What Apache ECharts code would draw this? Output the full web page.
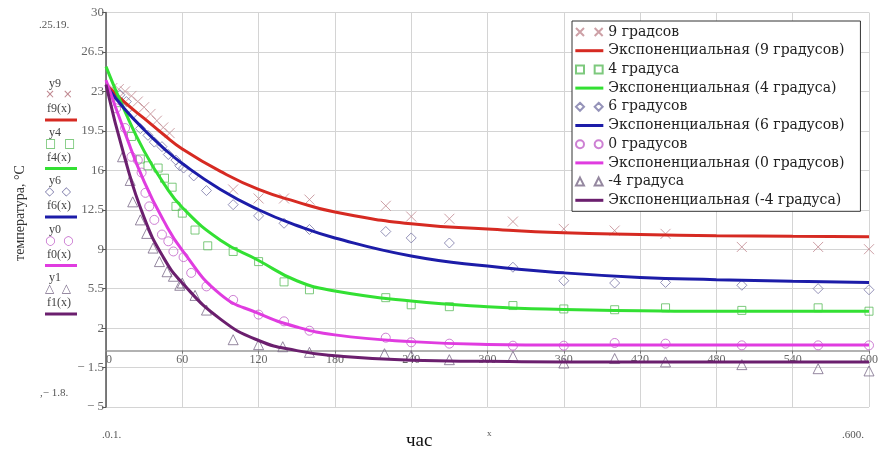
<!DOCTYPE html>
<html>
<head>
<meta charset="utf-8">
<script src="https://cdn.jsdelivr.net/npm/echarts@6/dist/echarts.min.js"></script>
<style>
  html, body { margin: 0; padding: 0; background: #fff; }
  #chart { width: 884px; height: 452px; }
</style>
</head>
<body>
<div id="chart"></div>
<script>
// fitted curves
const fitTimes = [0, 15, 30, 45, 60, 90, 120, 150, 180, 240, 300, 360, 420, 480, 540, 600];
const fit9 = [23.6, 22.0, 20.6, 19.2, 17.9, 15.9, 14.3, 13.2, 12.3, 11.25, 10.8, 10.45, 10.3, 10.2, 10.15, 10.1];
const fit4 = [25.2, 21.2, 17.7, 14.9, 12.7, 9.8, 8.0, 6.2, 5.3, 4.4, 3.9, 3.65, 3.55, 3.5, 3.5, 3.5];
const fit6 = [23.5, 21.4, 19.6, 18.0, 16.6, 14.3, 12.5, 11.1, 10.0, 8.4, 7.5, 6.9, 6.5, 6.3, 6.15, 6.05];
const fit0 = [24.0, 19.3, 15.0, 11.6, 8.9, 5.0, 3.3, 2.1, 1.4, 0.8, 0.55, 0.5, 0.5, 0.5, 0.5, 0.5];
const fitM4 = [23.6, 17.0, 11.8, 8.3, 6.0, 2.8, 0.9, 0.0, -0.45, -0.85, -0.95, -1.0, -1.0, -1.0, -1.0, -1.0];

// measurements
const t9 = [5, 10, 15, 20, 25, 30, 35, 40, 45, 50, 100, 120, 140, 160, 220, 240, 270, 320, 360, 400, 440, 500, 560, 600];
const y9 = [23.3, 23.2, 23.0, 22.6, 22.1, 21.6, 21.0, 20.4, 19.8, 19.3, 14.3, 13.5, 13.5, 13.4, 12.85, 11.9, 11.7, 11.45, 10.8, 10.65, 10.36, 9.2, 9.2, 9.0];

const t4 = [10, 20, 27, 33, 41, 46, 52, 55, 60, 70, 80, 100, 120, 140, 160, 220, 240, 270, 320, 360, 400, 440, 500, 560, 600];
const y4 = [22.0, 19.0, 17.0, 16.4, 16.2, 15.3, 14.5, 12.8, 12.2, 10.7, 9.3, 8.8, 7.9, 6.1, 5.4, 4.7, 4.07, 3.9, 4.0, 3.7, 3.63, 3.8, 3.57, 3.8, 3.5];

const t6 = [11, 16, 21, 27, 33, 38, 44, 49, 55, 58, 61, 69, 79, 100, 120, 140, 160, 220, 240, 270, 320, 360, 400, 440, 500, 560, 600];
const y6 = [22.7, 22.1, 21.0, 19.7, 19.1, 18.5, 18.1, 17.4, 16.9, 16.4, 16.2, 15.5, 14.2, 12.95, 11.96, 11.3, 10.75, 10.57, 10.0, 9.55, 7.4, 6.2, 6.0, 6.05, 5.8, 5.5, 5.4];

const t0 = [8, 15, 20, 25, 28, 31, 34, 38, 44, 49, 53, 61, 67, 79, 100, 120, 140, 160, 220, 240, 270, 320, 360, 400, 440, 500, 560, 600];
const y0 = [21.5, 19.75, 17.2, 16.9, 15.8, 14.0, 12.8, 11.6, 10.3, 9.7, 8.8, 8.3, 6.9, 5.7, 4.5, 3.2, 2.6, 1.77, 1.15, 0.74, 0.62, 0.44, 0.44, 0.68, 0.62, 0.47, 0.47, 0.47];

const tM4 = [13, 19, 21, 27, 32, 37, 42, 48, 53, 58, 60, 70, 79, 100, 120, 139, 160, 219, 240, 270, 320, 360, 400, 440, 500, 560, 600];
const yM4 = [17.2, 15.1, 13.2, 11.6, 10.4, 9.1, 7.9, 7.0, 6.6, 5.8, 6.0, 4.9, 3.6, 0.97, 0.53, 0.35, -0.15, -0.27, -0.44, -0.8, -0.5, -1.1, -0.7, -1.0, -1.24, -1.6, -1.8];

const markNames = ["9 градсов", "4 градуса", "6 градусов", "0 градусов", "-4 градуса"];
const fitNames = ["Экспоненциальная (9 градусов)", "Экспоненциальная (4 градуса)", "Экспоненциальная (6 градусов)",
                  "Экспоненциальная (0 градусов)", "Экспоненциальная (-4 градуса)"];
const yTickLabels = ["− 5", "− 1.5", "2", "5.5", "9", "12.5", "16", "19.5", "23", "26.5", "30"];

const fitColors = ["#d62a22", "#33e033", "#1c1ca8", "#e03ce0", "#6b1f6e"];
const markColors = ["#c08890", "#5cbc5c", "#7a78a8", "#c060c8", "#7a6a88"];

const crossPath = "path://M0,0L10,10M10,0L0,10";
const markSymbols = [crossPath, "rect", "diamond", "circle", "triangle"];
const markSizes = [10, 8, 10, 9, 10];
const legendIcons = [
  "path://M0,0L6,6M6,0L0,6M14,0L20,6M20,0L14,6",
  "path://M0,0H6V6H0ZM14,0H20V6H14Z",
  "path://M3,0L6,3L3,6L0,3ZM17,0L20,3L17,6L14,3Z",
  "path://M0,3A3,3 0 1,0 6,3A3,3 0 1,0 0,3ZM14,3A3,3 0 1,0 20,3A3,3 0 1,0 14,3Z",
  "path://M3,0L6,6L0,6ZM17,0L20,6L14,6Z"
];
const lineIcon = "path://M0,0H28V3H0Z";
const markTimes = [t9, t4, t6, t0, tM4];
const markVals = [y9, y4, y6, y0, yM4];
const fitVals = [fit9, fit4, fit6, fit0, fitM4];

const miniNames = [["y9", "f9(x)", "×  ×"], ["y4", "f4(x)", "□  □"], ["y6", "f6(x)", "◇  ◇"],
                   ["y0", "f0(x)", "○  ○"], ["y1", "f1(x)", "△  △"]];

const chart = echarts.init(document.getElementById("chart"));

const series = [];
const legendData = [];
for (let i = 0; i < 5; i++) {
  series.push({
    name: markNames[i],
    type: "scatter",
    yAxisIndex: 0,
    symbol: markSymbols[i],
    symbolSize: markSizes[i],
    itemStyle: { color: "transparent", borderColor: markColors[i], borderWidth: 1 },
    data: markTimes[i].map((t, k) => [t, markVals[i][k]]),
    z: 2
  });
  series.push({
    name: fitNames[i],
    type: "line",
    yAxisIndex: 0,
    smooth: true,
    symbol: "none",
    lineStyle: { color: fitColors[i], width: 3 },
    itemStyle: { color: fitColors[i] },
    data: fitTimes.map((t, k) => [t, fitVals[i][k]]),
    z: 3
  });
  legendData.push({ name: markNames[i], icon: legendIcons[i] });
  legendData.push({ name: fitNames[i], icon: lineIcon });
}

const serif = "Liberation Serif";
const graphics = [];
miniNames.forEach((row, i) => {
  const base = 85 + i * 48.5;
  graphics.push({ type: "text", left: 49, top: base - 7,
    style: { text: row[0], font: "12px " + serif, fill: "#444" } });
  graphics.push({ type: "text", left: 45, top: base + 4,
    style: { text: row[2], font: "12px DejaVu Sans", fill: markColors[i] } });
  graphics.push({ type: "text", left: 47, top: base + 18,
    style: { text: row[1], font: "12px " + serif, fill: "#444" } });
  graphics.push({ type: "line", shape: { x1: 45, y1: base + 35, x2: 77, y2: base + 35 },
    style: { stroke: fitColors[i], lineWidth: 3 } });
});
graphics.push(
  { type: "text", left: 39, top: 20, style: { text: ".25.19.", font: "11px " + serif, fill: "#555" } },
  { type: "text", left: 40, top: 388, style: { text: ",− 1.8.", font: "11px " + serif, fill: "#555" } },
  { type: "text", left: 102, top: 430, style: { text: ".0.1.", font: "11px " + serif, fill: "#555" } },
  { type: "text", left: 842, top: 430, style: { text: ".600.", font: "11px " + serif, fill: "#555" } },
  { type: "text", left: 487, top: 429, style: { text: "x", font: "9px " + serif, fill: "#555" } },
  { type: "text", left: 406, top: 432, style: { text: "час", font: "19px " + serif, fill: "#111" } },
  { type: "text", x: 20, y: 213, rotation: Math.PI / 2,
    style: { text: "температура, °C", font: "14px " + serif, fill: "#333",
             textAlign: "center", textVerticalAlign: "middle" } }
);

const option = {
  backgroundColor: "#fff",
  animation: false,
  grid: { left: 106, right: 15, top: 12.5, bottom: 45 },
  legend: {
    data: legendData,
    orient: "vertical",
    left: 572,
    top: 21,
    itemWidth: 28,
    itemHeight: 8,
    itemGap: 4.7,
    padding: [4, 16, 4, 3],
    backgroundColor: "#fff",
    borderColor: "#333",
    borderWidth: 1,
    textStyle: { fontFamily: "DejaVu Serif", fontSize: 14, color: "#222" }
  },
  xAxis: {
    type: "value",
    min: 0,
    max: 600,
    interval: 60,
    // axis drawn at the zero line of the temperature scale, inside the plot
    offset: -56.4,
    axisLine: { onZero: false, lineStyle: { color: "#999", width: 1.5 } },
    axisTick: { show: true, length: 3, lineStyle: { color: "#777" } },
    axisLabel: { fontFamily: serif, fontSize: 12, color: "#666", margin: 3, alignMinLabel: "left" },
    splitLine: { show: true, lineStyle: { color: "#d4d4d4", width: 1 } }
  },
  yAxis: [
    { type: "value", min: -5, max: 30, show: false, splitLine: { show: false } },
    {
      type: "value",
      min: 0,
      max: 35,
      interval: 3.5,
      position: "left",
      axisLine: { show: true, lineStyle: { color: "#555", width: 1.5 } },
      axisTick: { show: true, length: 4, lineStyle: { color: "#555" } },
      axisLabel: {
        fontFamily: serif, fontSize: 13, color: "#666", margin: 2,
        formatter: (v) => yTickLabels[Math.round(v / 3.5)]
      },
      splitLine: { show: true, lineStyle: { color: "#d4d4d4", width: 1 } }
    }
  ],
  series: series,
  graphic: graphics
};

chart.setOption(option);
</script>
</body>
</html>
